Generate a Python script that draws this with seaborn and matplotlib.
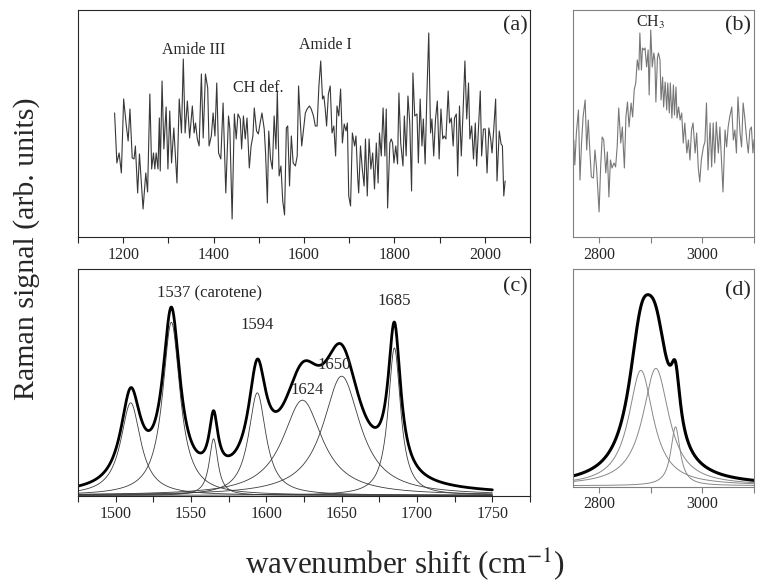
import numpy as np
import matplotlib
matplotlib.use('Agg')
import matplotlib.pyplot as plt
import seaborn as sns
from matplotlib.ticker import MultipleLocator

# (a) fingerprint region, raw spectrum
a_wn = [1181, 1186, 1191, 1196, 1201, 1207, 1211, 1215, 1220, 1224,
        1227, 1232, 1236, 1244, 1250, 1254, 1259, 1263, 1267, 1270,
        1273, 1277, 1280, 1282, 1286, 1290, 1295, 1299, 1303, 1307,
        1312, 1319, 1324, 1329, 1333, 1337, 1342, 1347, 1353, 1357,
        1360, 1364, 1368, 1373, 1377, 1382, 1387, 1390, 1395, 1399,
        1403, 1407, 1411, 1416, 1421, 1427, 1433, 1436, 1441, 1446,
        1450, 1454, 1459, 1462, 1466, 1470, 1474, 1479, 1483, 1487,
        1490, 1495, 1499, 1503, 1507, 1512, 1515, 1519, 1522, 1526,
        1530, 1534, 1538, 1541, 1545, 1549, 1553, 1557, 1561, 1564,
        1568, 1572, 1576, 1581, 1585, 1588, 1592, 1595, 1599, 1603,
        1607, 1612, 1616, 1621, 1625, 1629, 1633, 1637, 1641, 1644,
        1647, 1650, 1654, 1658, 1662, 1666, 1670, 1673, 1677, 1681,
        1685, 1689, 1693, 1696, 1699, 1703, 1707, 1712, 1715, 1719,
        1721, 1725, 1729, 1733, 1736, 1740, 1744, 1748, 1752, 1756,
        1760, 1764, 1767, 1771, 1775, 1779, 1782, 1785, 1790, 1793,
        1796, 1799, 1803, 1807, 1810, 1814, 1819, 1822, 1826, 1830,
        1834, 1838, 1841, 1845, 1850, 1853, 1857, 1861, 1864, 1868,
        1872, 1876, 1880, 1883, 1887, 1891, 1895, 1899, 1903, 1907,
        1910, 1914, 1919, 1922, 1926, 1930, 1933, 1937, 1940, 1944,
        1948, 1952, 1956, 1960, 1964, 1967, 1971, 1975, 1979, 1982,
        1986, 1990, 1993, 1997, 2001, 2005, 2009, 2013, 2016, 2020,
        2024, 2027, 2032, 2036, 2039, 2042, 2045]
a_sig = [124, 74, 84, 64, 138, 111, 96, 128, 79, 78,
         91, 44, 83, 28, 64, 45, 143, 68, 84, 68,
         84, 68, 119, 66, 156, 88, 130, 68, 126, 74,
         109, 54, 138, 104, 178, 104, 136, 99, 131, 104,
         114, 98, 91, 163, 99, 163, 149, 91, 101, 124,
         101, 154, 84, 78, 134, 44, 121, 108, 18, 123,
         98, 123, 118, 88, 121, 98, 119, 69, 91, 101,
         129, 106, 103, 114, 124, 108, 84, 34, 106, 78,
         68, 121, 88, 146, 61, 71, 36, 22, 109, 111,
         51, 101, 74, 71, 81, 151, 114, 91, 108, 124,
         128, 131, 128, 121, 111, 111, 151, 176, 138, 141,
         128, 111, 143, 151, 104, 111, 81, 131, 121, 148,
         94, 113, 106, 114, 41, 31, 104, 91, 101, 58,
         44, 91, 68, 51, 98, 41, 98, 68, 84, 48,
         94, 54, 104, 81, 129, 81, 128, 29, 94, 98,
         94, 74, 91, 73, 144, 94, 71, 121, 81, 141,
         114, 46, 164, 121, 123, 74, 138, 91, 118, 73,
         144, 204, 104, 118, 81, 118, 136, 78, 128, 98,
         101, 98, 146, 114, 119, 91, 119, 123, 61, 131,
         81, 126, 176, 118, 154, 98, 111, 78, 114, 71,
         108, 146, 81, 108, 108, 64, 109, 98, 84, 109,
         138, 56, 106, 93, 91, 41, 56]

# (b) CH stretching region
b_wn = [2751, 2753, 2756, 2760, 2763, 2766, 2769, 2773, 2776, 2779,
        2782, 2785, 2789, 2792, 2795, 2800, 2803, 2806, 2809, 2813,
        2816, 2819, 2822, 2825, 2829, 2832, 2835, 2838, 2842, 2845,
        2849, 2852, 2855, 2858, 2862, 2865, 2868, 2871, 2874, 2877,
        2879, 2882, 2884, 2887, 2889, 2892, 2895, 2897, 2900, 2903,
        2906, 2908, 2910, 2913, 2915, 2918, 2920, 2923, 2925, 2928,
        2931, 2933, 2936, 2938, 2941, 2944, 2946, 2949, 2951, 2954,
        2957, 2960, 2963, 2966, 2970, 2973, 2976, 2979, 2982, 2986,
        2989, 2992, 2995, 2998, 3002, 3005, 3008, 3011, 3015, 3018,
        3021, 3024, 3027, 3031, 3034, 3037, 3040, 3044, 3047, 3050,
        3053, 3057, 3060, 3063, 3066, 3069, 3073, 3076, 3079, 3082,
        3086, 3089, 3092, 3095, 3098, 3100]
b_sig = [97, 72, 104, 127, 57, 94, 120, 137, 87, 117,
         87, 60, 59, 87, 70, 25, 70, 100, 97, 64,
         85, 40, 77, 69, 74, 70, 90, 129, 94, 110,
         69, 120, 135, 110, 134, 120, 147, 154, 177, 167,
         204, 167, 189, 187, 189, 170, 187, 142, 207, 170,
         184, 177, 135, 179, 184, 177, 137, 160, 130, 155,
         127, 154, 124, 154, 119, 152, 122, 150, 119, 130,
         117, 124, 94, 114, 84, 97, 77, 107, 114, 84,
         104, 70, 55, 77, 90, 95, 134, 67, 114, 70,
         114, 74, 115, 84, 110, 77, 45, 107, 90, 110,
         120, 130, 97, 107, 84, 140, 104, 90, 134, 120,
         97, 84, 107, 110, 84, 97]

# (c) lorentzian fit of the 1475-1750 band: centre, height, half width
c_centers = [1510, 1537, 1565, 1594, 1624, 1650, 1685]
c_heights = [278, 520, 170, 308, 286, 358, 443]
c_hwhm = [8, 7, 3.5, 7, 16, 15, 5]

# (d) lorentzian fit of the CH band
d_centers = [2881, 2910, 2948]
d_heights = [347, 353, 177]
d_hwhm = [29, 31, 11]


def lorentz(x, x0, h, g):
    return h / (1 + ((x - x0) / g) ** 2)


sns.set_style('ticks')
plt.rcParams['font.family'] = ['Liberation Serif', 'DejaVu Serif']
plt.rcParams['mathtext.fontset'] = 'stix'

fig = plt.figure(figsize=(7.66, 5.87), dpi=100)
ax_a = fig.add_axes([0.1018, 0.5963, 0.5901, 0.3867])
ax_b = fig.add_axes([0.7484, 0.5963, 0.2359, 0.3867])
ax_c = fig.add_axes([0.1018, 0.1550, 0.5901, 0.3867])
ax_d = fig.add_axes([0.7484, 0.1709, 0.2359, 0.3708])

# (a)
sns.lineplot(x=a_wn, y=a_sig, ax=ax_a, color='#383838', lw=0.8, sort=False, estimator=None)
ax_a.set_xlim(1100, 2100)
ax_a.set_ylim(0, 227)
ax_a.xaxis.set_major_locator(MultipleLocator(200))
ax_a.xaxis.set_minor_locator(MultipleLocator(100))
ax_a.text(1356, 187, 'Amide III', ha='center', va='center', fontsize=11.5)
ax_a.text(1498, 149, 'CH def.', ha='center', va='center', fontsize=11.5)
ax_a.text(1647, 192, 'Amide I', ha='center', va='center', fontsize=11.5)
ax_a.text(0.995, 0.93, '(a)', transform=ax_a.transAxes, ha='right', va='center', fontsize=16)

# (b)
sns.lineplot(x=b_wn, y=b_sig, ax=ax_b, color='#777777', lw=0.8, sort=False, estimator=None)
ax_b.set_xlim(2750, 3100)
ax_b.set_ylim(0, 227)
ax_b.xaxis.set_major_locator(MultipleLocator(200))
ax_b.xaxis.set_minor_locator(MultipleLocator(100))
ax_b.text(2899, 215, 'CH$_3$', ha='center', va='center', fontsize=11.5)
ax_b.text(0.985, 0.93, '(b)', transform=ax_b.transAxes, ha='right', va='center', fontsize=16)

# (c)
xc = np.linspace(1475, 1750, 1200)
c_total = np.zeros_like(xc)
for x0, h, g in zip(c_centers, c_heights, c_hwhm):
    comp = lorentz(xc, x0, h, g)
    c_total += comp
    sns.lineplot(x=xc, y=comp, ax=ax_c, color='#3c3c3c', lw=0.6, estimator=None)
sns.lineplot(x=xc, y=c_total, ax=ax_c, color='black', lw=2.0, estimator=None)
ax_c.set_xlim(1475, 1775)
ax_c.set_ylim(-2, 680)
ax_c.xaxis.set_major_locator(MultipleLocator(50))
ax_c.xaxis.set_minor_locator(MultipleLocator(25))
ax_c.text(1562, 608, '1537 (carotene)', ha='center', va='center', fontsize=12)
ax_c.text(1594, 513, '1594', ha='center', va='center', fontsize=12)
ax_c.text(1627, 318, '1624', ha='center', va='center', fontsize=12)
ax_c.text(1645, 393, '1650', ha='center', va='center', fontsize=12)
ax_c.text(1685, 583, '1685', ha='center', va='center', fontsize=12)
ax_c.text(0.995, 0.92, '(c)', transform=ax_c.transAxes, ha='right', va='center', fontsize=16)

# (d)
xd = np.linspace(2750, 3100, 1200)
d_total = np.zeros_like(xd)
for x0, h, g in zip(d_centers, d_heights, d_hwhm):
    comp = lorentz(xd, x0, h, g)
    d_total += comp
    sns.lineplot(x=xd, y=comp, ax=ax_d, color='#888888', lw=0.7, estimator=None)
sns.lineplot(x=xd, y=d_total, ax=ax_d, color='black', lw=2.2, estimator=None)
ax_d.set_xlim(2750, 3100)
ax_d.set_ylim(-3, 652)
ax_d.xaxis.set_major_locator(MultipleLocator(200))
ax_d.xaxis.set_minor_locator(MultipleLocator(100))
ax_d.text(0.985, 0.9, '(d)', transform=ax_d.transAxes, ha='right', va='center', fontsize=16)

for ax in (ax_a, ax_b, ax_c, ax_d):
    ax.set_yticks([])
    ax.set_xlabel('')
    ax.set_ylabel('')
    ax.tick_params(axis='x', which='both', direction='out', length=4, width=0.8,
                   labelsize=11.5, pad=3)
for ax in (ax_b, ax_d):
    for sp in ax.spines.values():
        sp.set_color('#808080')
    ax.tick_params(axis='x', which='both', color='#808080')

fig.text(0.034, 0.577, 'Raman signal (arb. units)', rotation=90, ha='center', va='center', fontsize=21.5)
fig.text(0.529, 0.038, 'wavenumber shift (cm$^{-1}$)', ha='center', va='center', fontsize=22.5)

fig.savefig('out.png', dpi=100)
